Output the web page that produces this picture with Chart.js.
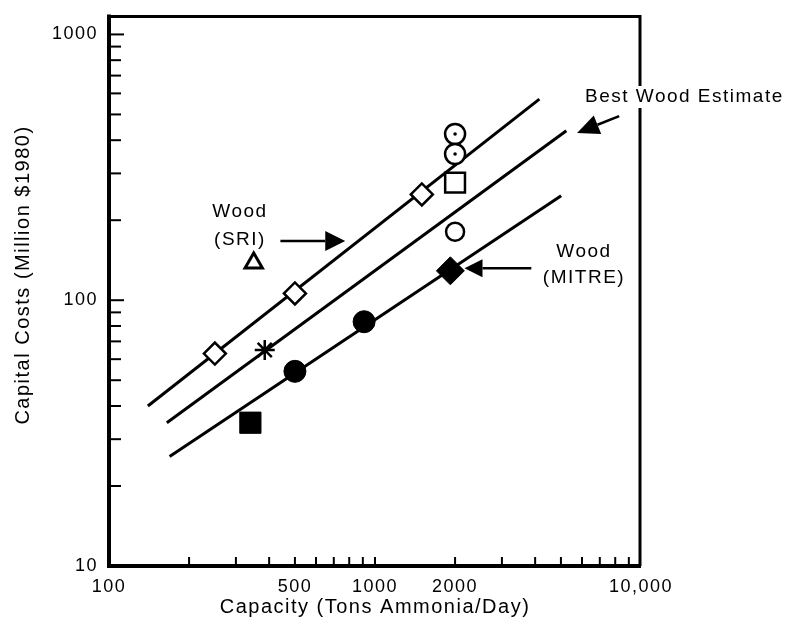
<!DOCTYPE html>
<html>
<head>
<meta charset="utf-8">
<script src="https://cdn.jsdelivr.net/npm/chart.js@4.4.1/dist/chart.umd.min.js"></script>
<style>
  html, body { margin: 0; padding: 0; background: #fff; }
  #wrap { width: 795px; height: 630px; }
</style>
</head>
<body>
<div id="wrap"><canvas id="costChart" width="795" height="630"></canvas></div>
<script>
// tick labels shown on the axes
const xTickValues = [100, 500, 1000, 2000, 10000];
const xTickText = ['100', '500', '1000', '2000', '10,000'];
const yTickValues = [10, 100, 1000];
const yTickText = ['10', '100', '1000'];

// fitted lines (start and end point of each)
const sriLineX = [140, 4150];
const sriLineY = [40, 571];
const midLineX = [165, 5240];
const midLineY = [34.6, 434];
const mitreLineX = [169, 5010];
const mitreLineY = [25.8, 247];

// plotted estimates, one pair of arrays per symbol
const openDiamondX = [250, 500, 1500];
const openDiamondY = [63, 106, 250];
const dotCircleX = [2000, 2000];
const dotCircleY = [422, 355];
const openSquareX = [2000];
const openSquareY = [277];
const openCircleX = [2000];
const openCircleY = [181];
const solidDiamondX = [1920];
const solidDiamondY = [129];
const solidCircleX = [500, 910];
const solidCircleY = [54, 83];
const solidSquareX = [340];
const solidSquareY = [34.6];
const starX = [385];
const starY = [65];
const triangleX = [350];
const triangleY = [138];

const FONT = '"Liberation Sans", Arial, Helvetica, sans-serif';

// x and y arrays -> {x, y} points
const pts = (xs, ys) => xs.map((x, i) => ({ x: x, y: ys[i] }));

// value like 2, 30, 400 ... (used for the small ticks)
function isStep(v) {
    const m = v / Math.pow(10, Math.floor(Math.log10(v) + 1e-9));
    return Math.abs(m - Math.round(m)) < 1e-6;
}

const lineStyle = {
    showLine: true,
    borderColor: '#000',
    borderWidth: 3,
    pointRadius: 0,
    fill: false,
    order: 10
};

const mark = (style, radius, fillColor, width) => ({
    pointStyle: style,
    pointRadius: radius,
    pointHoverRadius: radius,
    backgroundColor: fillColor,
    borderColor: '#000',
    borderWidth: width,
    order: 1
});

const datasets = [
    { label: 'SRI line', data: pts(sriLineX, sriLineY), ...lineStyle },
    { label: 'Middle line', data: pts(midLineX, midLineY), ...lineStyle },
    { label: 'MITRE line', data: pts(mitreLineX, mitreLineY), ...lineStyle },
    { label: 'Open diamond', data: pts(openDiamondX, openDiamondY), ...mark('rectRot', 11, '#fff', 2.5) },
    { label: 'Dotted circle', data: pts(dotCircleX, dotCircleY), ...mark('circle', 10, '#fff', 2.5) },
    { label: 'Dotted circle centre', data: pts(dotCircleX, dotCircleY), ...mark('circle', 1.8, '#000', 0), order: 0 },
    { label: 'Open square', data: pts(openSquareX, openSquareY), ...mark('rect', 14, '#fff', 2.5) },
    { label: 'Open circle', data: pts(openCircleX, openCircleY), ...mark('circle', 9, '#fff', 2.5) },
    { label: 'Filled diamond', data: pts(solidDiamondX, solidDiamondY), ...mark('rectRot', 14, '#000', 1) },
    { label: 'Filled circle', data: pts(solidCircleX, solidCircleY), ...mark('circle', 11, '#000', 1) },
    { label: 'Filled square', data: pts(solidSquareX, solidSquareY), ...mark('rect', 15, '#000', 1) },
    { label: 'Asterisk', data: pts(starX, starY), ...mark('star', 10, '#000', 2.5) },
    { label: 'Open triangle', data: pts(triangleX, triangleY), ...mark('triangle', 10, '#fff', 3) }
];

// arrows are given in data units, texts in pixels
const arrowNotes = [
    { from: [441, 167], to: [773, 167], len: 20, half: 10 },
    { from: [3870, 132], to: [2170, 132], len: 18, half: 9 },
    { from: [8280, 493], to: [5750, 426], len: 22, half: 10 }
];
const textNotes = [
    { text: 'Wood', x: 240, y: 212, align: 'center' },
    { text: '(SRI)', x: 240, y: 240, align: 'center' },
    { text: 'Wood', x: 584, y: 252, align: 'center' },
    { text: '(MITRE)', x: 584, y: 278, align: 'center' },
    { text: 'Best Wood Estimate', x: 585, y: 97, align: 'left', backing: true }
];

// frame, inward ticks, y title and notes
const framePlugin = {
    id: 'frame',
    beforeDraw(chart) {
        chart.ctx.letterSpacing = '1.5px';
    },
    afterDraw(chart) {
        const { ctx, chartArea: a, scales: { x, y } } = chart;
        ctx.save();
        ctx.strokeStyle = '#000';
        ctx.fillStyle = '#000';

        // left and bottom axes
        ctx.lineWidth = 4;
        ctx.beginPath();
        ctx.moveTo(a.left, a.top - 2);
        ctx.lineTo(a.left, a.bottom);
        ctx.lineTo(a.right, a.bottom);
        ctx.stroke();

        // top and right edges
        ctx.lineWidth = 3;
        ctx.beginPath();
        ctx.moveTo(a.left, a.top);
        ctx.lineTo(a.right - 1, a.top);
        ctx.lineTo(a.right - 1, a.bottom);
        ctx.stroke();

        // ticks pointing into the plot
        ctx.lineWidth = 2;
        x.ticks.forEach(t => {
            if (!isStep(t.value) || t.value <= x.min || t.value >= x.max) return;
            const px = x.getPixelForValue(t.value);
            ctx.beginPath();
            ctx.moveTo(px, a.bottom);
            ctx.lineTo(px, a.bottom - 9);
            ctx.stroke();
        });
        y.ticks.forEach(t => {
            if (!isStep(t.value) || t.value <= y.min || t.value > y.max) return;
            const py = y.getPixelForValue(t.value);
            const len = yTickValues.includes(t.value) ? 15 : 12;
            ctx.beginPath();
            ctx.moveTo(a.left, py);
            ctx.lineTo(a.left + len, py);
            ctx.stroke();
        });

        // y axis title
        ctx.font = '20px ' + FONT;
        ctx.textAlign = 'center';
        ctx.textBaseline = 'middle';
        ctx.save();
        ctx.translate(23, 275);
        ctx.rotate(-Math.PI / 2);
        ctx.fillText('Capital Costs (Million $1980)', 0, 0);
        ctx.restore();

        // arrows
        arrowNotes.forEach(n => {
            const x0 = x.getPixelForValue(n.from[0]), y0 = y.getPixelForValue(n.from[1]);
            const x1 = x.getPixelForValue(n.to[0]), y1 = y.getPixelForValue(n.to[1]);
            const ang = Math.atan2(y1 - y0, x1 - x0);
            const bx = x1 - Math.cos(ang) * n.len, by = y1 - Math.sin(ang) * n.len;
            ctx.lineWidth = 2.5;
            ctx.beginPath();
            ctx.moveTo(x0, y0);
            ctx.lineTo(bx, by);
            ctx.stroke();
            ctx.beginPath();
            ctx.moveTo(x1, y1);
            ctx.lineTo(bx - Math.sin(ang) * n.half, by + Math.cos(ang) * n.half);
            ctx.lineTo(bx + Math.sin(ang) * n.half, by - Math.cos(ang) * n.half);
            ctx.closePath();
            ctx.fill();
        });

        // annotation texts
        ctx.font = '19px ' + FONT;
        textNotes.forEach(n => {
            ctx.textAlign = n.align;
            if (n.backing) {
                const w = ctx.measureText(n.text).width;
                ctx.fillStyle = '#fff';
                ctx.fillRect(n.x - 2, n.y - 11, w + 4, 22);
                ctx.fillStyle = '#000';
            }
            ctx.fillText(n.text, n.x, n.y);
        });
        ctx.restore();
    }
};

// no extra label padding, so the plot box stays where the frame is
function noPadding(s) {
    s.paddingTop = 0;
    s.paddingBottom = 0;
    s.paddingLeft = 0;
    s.paddingRight = 0;
}

const ctx = document.getElementById('costChart').getContext('2d');
const costChart = new Chart(ctx, {
    type: 'scatter',
    data: { datasets: datasets },
    plugins: [framePlugin],
    options: {
        responsive: false,
        animation: false,
        layout: { padding: { left: 0, right: 154, top: 15, bottom: 0 } },
        plugins: {
            legend: { display: false },
            tooltip: { enabled: false }
        },
        scales: {
            x: {
                type: 'logarithmic',
                min: 100,
                max: 10000,
                grid: { display: false, drawTicks: false },
                border: { display: false },
                ticks: {
                    autoSkip: false,
                    maxRotation: 0,
                    padding: 10,
                    color: '#000',
                    font: { family: FONT, size: 18 },
                    callback: v => {
                        const i = xTickValues.indexOf(Math.round(v));
                        return i < 0 ? '' : xTickText[i];
                    }
                },
                title: {
                    display: true,
                    text: 'Capacity (Tons Ammonia/Day)',
                    color: '#000',
                    font: { family: FONT, size: 20 },
                    padding: { top: 0, bottom: 11 }
                },
                afterFit: s => { s.height = 64; noPadding(s); }
            },
            y: {
                type: 'logarithmic',
                min: 10,
                max: 1168,
                grid: { display: false, drawTicks: false },
                border: { display: false },
                ticks: {
                    autoSkip: false,
                    padding: 11,
                    color: '#000',
                    font: { family: FONT, size: 18 },
                    callback: v => {
                        const i = yTickValues.indexOf(Math.round(v));
                        return i < 0 ? '' : yTickText[i];
                    }
                },
                afterFit: s => { s.width = 109; noPadding(s); }
            }
        }
    }
});
</script>
</body>
</html>
